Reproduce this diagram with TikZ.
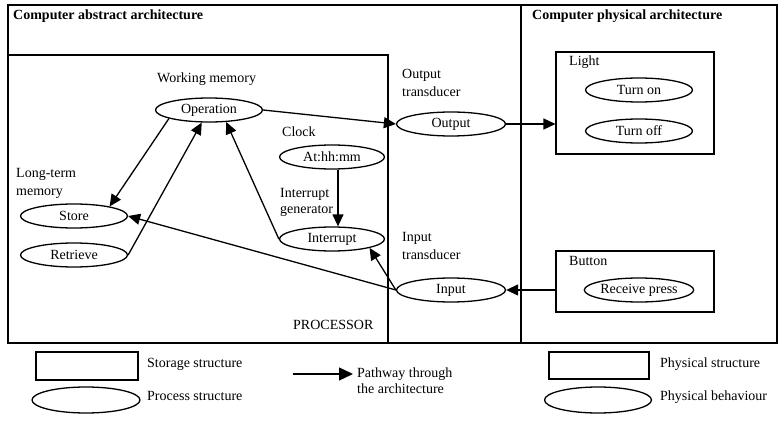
\documentclass[tikz,border=0pt]{standalone}
\usepackage{fontspec}
\setmainfont{Liberation Serif}
\usetikzlibrary{shapes.geometric,arrows.meta}
\begin{document}
\begin{tikzpicture}[x=1pt,y=-1pt,
  font=\fontsize{14}{16}\selectfont,
  proc/.style={draw, ellipse, line width=1.3pt, minimum width=107pt, minimum height=24pt, inner sep=0pt},
  box/.style={draw, rectangle, line width=1.1pt, inner sep=0pt},
  lbl/.style={anchor=base west, inner sep=0pt},
  arr/.style={line width=1.3pt, -{Triangle[length=12pt,width=11pt]}},
  frame/.style={line width=2.3pt},
]
\useasboundingbox (0,0) rectangle (784,422);

% frames
\draw[frame] (8,5) rectangle (777,343);
\draw[line width=1.4pt] (8,55) rectangle (388,343);
\draw[frame] (521,5) -- (521,343);

\node[lbl, font=\fontsize{14}{16}\selectfont\bfseries] (t1) at (13,20) {Computer abstract architecture};
\node[lbl, font=\fontsize{14}{16}\selectfont\bfseries] (t2) at (532,20) {Computer physical architecture};

% labels
\node[lbl] (wm) at (157,83) {Working memory};
\node[lbl] (clk) at (282,137) {Clock};
\node[lbl] (ltm1) at (16,178) {Long-term};
\node[lbl] (ltm2) at (16,196) {memory};
\node[lbl] (ig1) at (280,197) {Interrupt};
\node[lbl] (ig2) at (280,214) {generator};
\node[lbl] (pr) at (293,329) {PROCESSOR};
\node[lbl] (ot1) at (402,79) {Output};
\node[lbl] (ot2) at (402,97) {transducer};
\node[lbl] (it1) at (402,241) {Input};
\node[lbl] (it2) at (402,259) {transducer};

% physical boxes
\node[box, minimum width=158pt, minimum height=102pt] (light) at (635,103) {};
\node[box, minimum width=158pt, minimum height=61pt] (button) at (635,281.5) {};
\node[lbl] (lightl) at (569,66) {Light};
\node[lbl] (buttonl) at (569,265) {Button};

% ellipses
\node[proc] (op) at (209,110) {Operation};
\node[proc, minimum width=105pt] (clock) at (332,157) {At:hh:mm};
\node[proc] (store) at (74,216) {Store};
\node[proc] (retr) at (74,255) {Retrieve};
\node[proc, minimum width=105pt] (intr) at (332,239) {Interrupt};
\node[proc, minimum width=109pt] (out) at (451,124) {Output};
\node[proc, minimum width=109pt] (in) at (451,290) {Input};
\node[proc] (on) at (639,90) {Turn on};
\node[proc] (off) at (639,131) {Turn off};
\node[proc] (press) at (639,290) {Receive press};

% connectors
\draw[arr] (op.east) -- (out.west);
\draw[arr] (out.east) -- (out.east -| light.west);
\draw[arr] (in.east -| button.west) -- (in.east);
\draw[arr] (in.west) -- (store.east);
\draw[arr] (in.west) -- (intr.south east);
\draw[arr] (intr.west) -- (op.-35);
\draw[arr] ([xshift=6pt]clock.south) -- ([xshift=6pt]intr.north);
\draw[arr] (op.-168) -- (store.15);
\draw[arr] (retr.east) -- (op.-120);

% legend
\node[box, minimum width=102pt, minimum height=28pt] (lg1) at (87,366) {};
\node[lbl] (lg1t) at (147,367) {Storage structure};
\node[proc, minimum width=108pt, minimum height=26pt] (lg2) at (86,400) {};
\node[lbl] (lg2t) at (147,400) {Process structure};
\coordinate (lga) at (293,374);
\coordinate (lgb) at (353,374);
\draw[line width=1.3pt, -{Triangle[length=14pt,width=13pt]}] (lga) -- (lgb);
\node[lbl] (lg3t) at (357,377) {Pathway through};
\node[lbl] (lg3u) at (357,393) {the architecture};
\node[box, minimum width=100pt, minimum height=27pt] (lg4) at (599,365.5) {};
\node[lbl] (lg4t) at (660,367) {Physical structure};
\node[proc, minimum width=107pt, minimum height=26pt] (lg5) at (598,400) {};
\node[lbl] (lg5t) at (660,400) {Physical behaviour};
\end{tikzpicture}
\end{document}
